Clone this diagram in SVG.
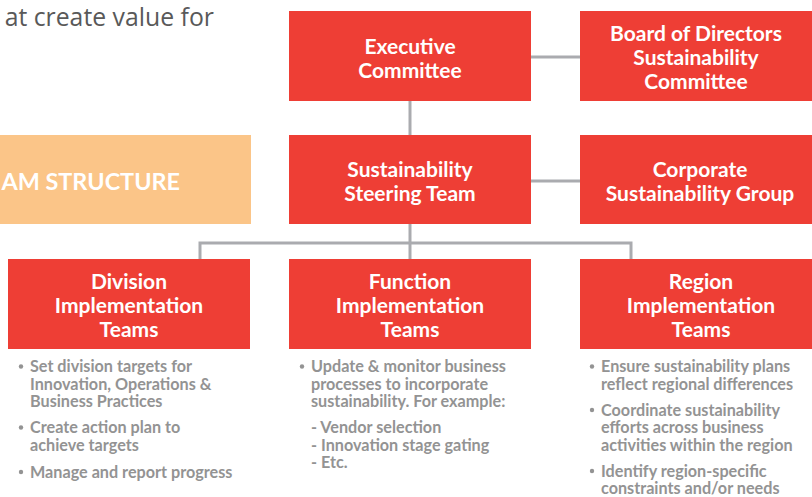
<svg xmlns="http://www.w3.org/2000/svg" width="812" height="497" viewBox="0 0 812 497">
<style>
.box{fill:#EE3E35}
.hd{font-family:Lato,"Open Sans",sans-serif;font-weight:bold;font-size:21px;fill:#FFFFFF;text-anchor:middle}
.con{stroke:#AAABAF;stroke-width:3;fill:none}
.bl{font-family:Lato,"Open Sans",sans-serif;font-weight:bold;font-size:16.2px;fill:#939393}
.dot{fill:#939393}
</style>
<rect width="812" height="497" fill="#FFFFFF"/>
<text x="214" y="26" font-family="'Open Sans',sans-serif" font-size="24.8" fill="#595959" text-anchor="end">at create value for</text>
<g id="banner">
<rect x="0" y="135" width="251" height="89" fill="#FBC588"/>
<text x="180" y="189.5" font-family="Lato,'Open Sans',sans-serif" font-weight="bold" font-size="23.4" fill="#FFFFFF" text-anchor="end">AM STRUCTURE</text>
</g>
<g id="connectors" class="con">
<line x1="531" y1="57" x2="580" y2="57"/>
<line x1="410" y1="101" x2="410" y2="135"/>
<line x1="531" y1="181" x2="580" y2="181"/>
<line x1="410" y1="224" x2="410" y2="259"/>
<polyline points="200,259 200,243 631,243 631,259"/>
</g>
<g id="executive-committee">
<rect class="box" x="289" y="11" width="242" height="90"/>
<text class="hd" x="410" y="54">Executive</text>
<text class="hd" x="410" y="78">Committee</text>
</g>
<g id="board-committee">
<rect class="box" x="580" y="11" width="232" height="90"/>
<text class="hd" x="696" y="41">Board of Directors</text>
<text class="hd" x="696" y="65">Sustainability</text>
<text class="hd" x="696" y="89">Committee</text>
</g>
<g id="steering-team">
<rect class="box" x="289" y="135" width="242" height="89"/>
<text class="hd" x="410" y="177">Sustainability</text>
<text class="hd" x="410" y="201">Steering Team</text>
</g>
<g id="corporate-group">
<rect class="box" x="580" y="135" width="232" height="89"/>
<text class="hd" x="700" y="177">Corporate</text>
<text class="hd" x="700" y="201">Sustainability Group</text>
</g>
<g id="division-teams">
<rect class="box" x="8" y="259" width="242" height="90"/>
<text class="hd" x="129" y="289">Division</text>
<text class="hd" x="129" y="313">Implementation</text>
<text class="hd" x="129" y="337">Teams</text>
</g>
<g id="function-teams">
<rect class="box" x="289" y="259" width="242" height="90"/>
<text class="hd" x="410" y="289">Function</text>
<text class="hd" x="410" y="313">Implementation</text>
<text class="hd" x="410" y="337">Teams</text>
</g>
<g id="region-teams">
<rect class="box" x="580" y="259" width="232" height="90"/>
<text class="hd" x="701" y="289">Region</text>
<text class="hd" x="701" y="313">Implementation</text>
<text class="hd" x="701" y="337">Teams</text>
</g>
<g id="division-bullets">
<circle class="dot" cx="21" cy="366.5" r="2.2"/>
<text class="bl" x="30" y="372">Set division targets for</text>
<text class="bl" x="30" y="389.5">Innovation, Operations &amp;</text>
<text class="bl" x="30" y="407">Business Practices</text>
<circle class="dot" cx="21" cy="427.5" r="2.2"/>
<text class="bl" x="30" y="433">Create action plan to</text>
<text class="bl" x="30" y="450.5">achieve targets</text>
<circle class="dot" cx="21" cy="472" r="2.2"/>
<text class="bl" x="30" y="477.5">Manage and report progress</text>
</g>
<g id="function-bullets">
<circle class="dot" cx="302" cy="366.5" r="2.2"/>
<text class="bl" x="311" y="372">Update &amp; monitor business</text>
<text class="bl" x="311" y="389.5">processes to incorporate</text>
<text class="bl" x="311" y="407">sustainability. For example:</text>
<text class="bl" x="311" y="433">- Vendor selection</text>
<text class="bl" x="311" y="450.5">- Innovation stage gating</text>
<text class="bl" x="311" y="468">- Etc.</text>
</g>
<g id="region-bullets">
<circle class="dot" cx="592" cy="366.5" r="2.2"/>
<text class="bl" x="601" y="372">Ensure sustainability plans</text>
<text class="bl" x="601" y="389.5">reflect regional differences</text>
<circle class="dot" cx="592" cy="410" r="2.2"/>
<text class="bl" x="601" y="415.5">Coordinate sustainability</text>
<text class="bl" x="601" y="433">efforts across business</text>
<text class="bl" x="601" y="450.5">activities within the region</text>
<circle class="dot" cx="592" cy="471" r="2.2"/>
<text class="bl" x="601" y="476.5">Identify region-specific</text>
<text class="bl" x="601" y="494">constraints and/or needs</text>
</g>
</svg>
